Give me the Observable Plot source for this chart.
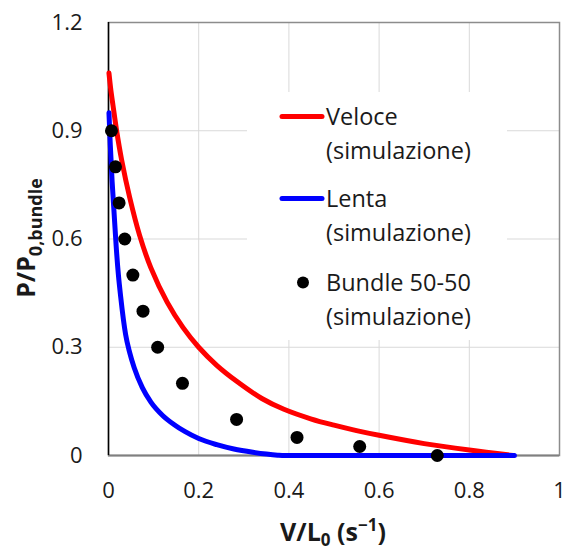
<!DOCTYPE html>
<html>
<head>
<meta charset="utf-8">
<script src="https://cdn.jsdelivr.net/npm/d3@7"></script>
<script src="https://cdn.jsdelivr.net/npm/@observablehq/plot@0.6"></script>
<style>
  html, body { margin: 0; padding: 0; background: #ffffff; }
  #chart { width: 566px; height: 551px; }
</style>
</head>
<body>
<div id="chart"></div>
<script>
// ---- data ----
const xTicks = [0, 0.2, 0.4, 0.6, 0.8, 1];
const yTicks = [0, 0.3, 0.6, 0.9, 1.2];

const veloceV = [0.001, 0.005, 0.010, 0.018, 0.029, 0.047, 0.069, 0.094, 0.130, 0.165, 0.200, 0.240, 0.285, 0.340, 0.389, 0.450, 0.500, 0.550, 0.600, 0.700, 0.800, 0.897];
const veloceP = [1.06, 1.015, 0.97, 0.90, 0.82, 0.715, 0.61, 0.52, 0.425, 0.355, 0.30, 0.25, 0.205, 0.158, 0.128, 0.101, 0.084, 0.069, 0.056, 0.033, 0.015, 0.0];

const lentaV = [0.001, 0.004, 0.008, 0.012, 0.017, 0.022, 0.027, 0.038, 0.047, 0.057, 0.075, 0.094, 0.120, 0.145, 0.170, 0.200, 0.240, 0.278, 0.320, 0.350, 0.375, 0.390, 0.600, 0.900];
const lentaP = [0.95, 0.86, 0.76, 0.68, 0.58, 0.50, 0.44, 0.335, 0.285, 0.243, 0.188, 0.148, 0.111, 0.086, 0.066, 0.047, 0.030, 0.018, 0.009, 0.004, 0.001, 0, 0, 0];

const bundleV = [0.0066, 0.0155, 0.0235, 0.036, 0.054, 0.0765, 0.109, 0.164, 0.284, 0.418, 0.557, 0.729];
const bundleP = [0.90, 0.80, 0.70, 0.60, 0.50, 0.40, 0.30, 0.20, 0.10, 0.05, 0.025, 0.0];

const seriesLabels = ["Veloce", "Lenta", "Bundle 50-50"];
const seriesNote = "(simulazione)";
const seriesColors = ["#ff0000", "#0000ff", "#000000"];

// ---- tables ----
const veloce = veloceV.map((v, i) => ({V: v, P: veloceP[i]}));
const lenta = lentaV.map((v, i) => ({V: v, P: lentaP[i]}));
const bundle = bundleV.map((v, i) => ({V: v, P: bundleP[i]}));

const fmt = d => String(d);
const FONT = "'Open Sans', 'Noto Sans', sans-serif";

const plot = Plot.plot({
  width: 566,
  height: 551,
  marginLeft: 108,
  marginRight: 7,
  marginTop: 22,
  marginBottom: 96,
  style: {fontFamily: FONT, fontSize: "22px", color: "#1a1a1a", background: "#ffffff", overflow: "visible"},
  x: {domain: [0, 1], label: null},
  y: {domain: [0, 1.2], label: null},
  marks: [
    Plot.gridX(xTicks.slice(1, -1), {stroke: "#d9d9d9", strokeOpacity: 1, strokeWidth: 1}),
    Plot.gridY(yTicks.slice(1, -1), {stroke: "#d9d9d9", strokeOpacity: 1, strokeWidth: 1}),
    Plot.frame({stroke: "#8c8c8c", strokeWidth: 1.5}),
    Plot.ruleY([0], {stroke: "#808080", strokeWidth: 2}),
    Plot.ruleX([0], {stroke: "#000000", strokeWidth: 1.5}),
    Plot.axisX(xTicks, {tickSize: 0, tickPadding: 27, tickFormat: fmt, label: null, fontSize: 22}),
    Plot.axisY(yTicks, {tickSize: 0, tickPadding: 26, tickFormat: fmt, label: null, fontSize: 22}),
    Plot.line(veloce, {x: "V", y: "P", stroke: seriesColors[0], strokeWidth: 5, curve: "catmull-rom"}),
    Plot.line(lenta, {x: "V", y: "P", stroke: seriesColors[1], strokeWidth: 5, curve: "monotone-x"}),
    Plot.dot(bundle, {x: "V", y: "P", r: 6.5, fill: seriesColors[2], stroke: "none"})
  ]
});

document.getElementById("chart").appendChild(plot);

const svg = d3.select(plot);

// ---- axis titles ----
const xt = svg.append("text")
  .attr("x", 333).attr("y", 541)
  .attr("text-anchor", "middle")
  .attr("font-family", FONT).attr("font-weight", "bold")
  .attr("font-size", 25).attr("fill", "#1a1a1a");
xt.append("tspan").text("V/L");
xt.append("tspan").attr("font-size", 17).attr("dy", 5).text("0");
xt.append("tspan").attr("dy", -5).text(" (s");
xt.append("tspan").attr("font-size", 17).attr("dy", -10).text("\u22121");
xt.append("tspan").attr("dy", 10).text(")");

const yt = svg.append("text")
  .attr("transform", "translate(35,238) rotate(-90)")
  .attr("text-anchor", "middle")
  .attr("font-family", FONT).attr("font-weight", "bold")
  .attr("font-size", 25).attr("fill", "#1a1a1a");
yt.append("tspan").text("P/P");
yt.append("tspan").attr("font-size", 18).attr("dy", 7).text("0,bundle");

// ---- legend ----
const lg = svg.append("g").attr("font-family", FONT).attr("font-size", 23.5)
  .attr("fill", "#1a1a1a").attr("text-anchor", "start");
lg.append("rect").attr("x", 247).attr("y", 92).attr("width", 260).attr("height", 248).attr("fill", "#ffffff");
const rows = [116.5, 198.5, 282.5];
rows.forEach((cy, i) => {
  if (i < 2) {
    lg.append("line").attr("x1", 282).attr("x2", 322).attr("y1", cy).attr("y2", cy)
      .attr("stroke", seriesColors[i]).attr("stroke-width", 5).attr("stroke-linecap", "round");
  } else {
    lg.append("circle").attr("cx", 303).attr("cy", cy).attr("r", 6).attr("fill", seriesColors[i]);
  }
  lg.append("text").attr("x", 326).attr("y", cy).attr("dy", "0.35em").attr("text-anchor", "start").text(seriesLabels[i]);
  lg.append("text").attr("x", 326).attr("y", cy + 34).attr("dy", "0.35em").attr("text-anchor", "start").text(seriesNote);
});
</script>
</body>
</html>
